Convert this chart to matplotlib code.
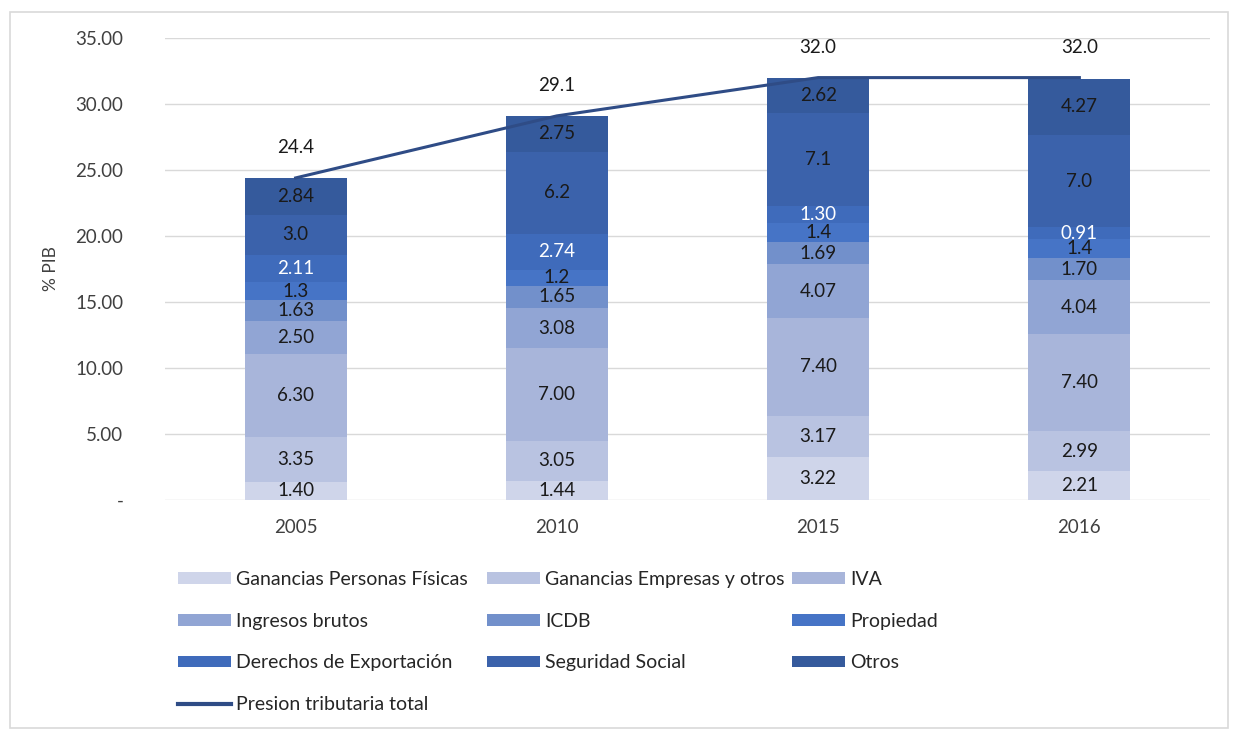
import numpy as np
import matplotlib
matplotlib.use("Agg")
from matplotlib import pyplot as plt
from matplotlib.patches import Rectangle, Patch
from matplotlib.lines import Line2D
from matplotlib.ticker import FuncFormatter

plt.rcParams['font.family'] = ['Lato', 'DejaVu Sans']

years = ['2005', '2010', '2015', '2016']
series = ['Ganancias Personas Físicas', 'Ganancias Empresas y otros', 'IVA',
          'Ingresos brutos', 'ICDB', 'Propiedad',
          'Derechos de Exportación', 'Seguridad Social', 'Otros']
gan_pf = [1.40, 1.44, 3.22, 2.21]
gan_emp = [3.35, 3.05, 3.17, 2.99]
iva = [6.30, 7.00, 7.40, 7.40]
ing_brutos = [2.50, 3.08, 4.07, 4.04]
icdb = [1.63, 1.65, 1.69, 1.70]
propiedad = [1.3, 1.2, 1.4, 1.4]
derechos = [2.11, 2.74, 1.30, 0.91]
seg_social = [3.0, 6.2, 7.1, 7.0]
otros = [2.84, 2.75, 2.62, 4.27]
total = [24.4, 29.1, 32.0, 32.0]

values = [gan_pf, gan_emp, iva, ing_brutos, icdb, propiedad, derechos, seg_social, otros]
decimals = [2, 2, 2, 2, 2, 1, 2, 1, 2]
colors = ['#CFD5EA', '#B9C3E1', '#A8B5DA', '#91A5D4', '#7290CB',
          '#4674C6', '#3F6BBB', '#3B62AB', '#355A9C']
txt_colors = ['#1a1a1a'] * 6 + ['white'] + ['#1a1a1a'] * 2
line_color = '#2F4C86'
fs = 13.5

fig = plt.figure(figsize=(12.36, 7.31), dpi=100)
ax = fig.add_axes([165 / 1236, 1 - 500 / 731, 1045 / 1236, 462 / 731])

x = np.arange(len(years))
bottom = np.zeros(len(years))
handles = []
for name, vals, dec, c, tc in zip(series, values, decimals, colors, txt_colors):
    vals = np.array(vals)
    ax.bar(x, vals, 0.39, bottom=bottom, color=c, zorder=2, label=name)
    for xi, b, v in zip(x, bottom, vals):
        ax.text(xi, b + v / 2, f"{v:.{dec}f}", ha='center', va='center',
                fontsize=fs, color=tc, zorder=4)
    handles.append(Patch(facecolor=c, label=name))
    bottom += vals

ax.plot(x, total, color=line_color, lw=2.2, zorder=3)
for xi, t in zip(x, total):
    ax.annotate(f"{t:.1f}", (xi, t), xytext=(0, 22), textcoords='offset points',
                ha='center', va='center', fontsize=fs, color='#1a1a1a')

ax.set_xlim(-0.5, 3.5)
ax.set_ylim(0, 35)
ax.set_yticks(np.arange(0, 36, 5))
ax.yaxis.set_major_formatter(FuncFormatter(lambda v, p: '-' if v == 0 else f"{v:.2f}"))
ax.set_xticks(x)
ax.set_xticklabels(years)
ax.tick_params(axis='both', length=0, labelsize=fs, labelcolor='#404040')
ax.tick_params(axis='y', pad=30)
ax.tick_params(axis='x', pad=14)
ax.grid(axis='y', color='#D9D9D9', lw=1, zorder=0)
for s in ax.spines.values():
    s.set_visible(False)
ax.set_ylabel('% PIB', fontsize=12.5, color='#404040')
ax.yaxis.set_label_coords(-0.101, 0.5)

# legend: one legend per column so the columns sit where the original has them
line_h = Line2D([0], [0], color=line_color, lw=3, label='Presion tributaria total')
allh = handles + [line_h]
columns = [([0, 3, 6, 9], 178), ([1, 4, 7], 487), ([2, 5, 8], 792)]
for idx, xpix in columns:
    hs = [allh[i] for i in idx]
    fig.legend(hs, [h.get_label() for h in hs],
               loc='upper left', bbox_to_anchor=(xpix / 1236, 1 - 571 / 731),
               frameon=False, fontsize=14, handlelength=2.7, handleheight=0.55,
               handletextpad=0.3, labelspacing=1.27, borderpad=0, borderaxespad=0,
               labelcolor='#262626')

fig.add_artist(Rectangle((10 / 1236, 3 / 731), 1218 / 1236, 716 / 731,
                         transform=fig.transFigure, fill=False,
                         edgecolor='#D9D9D9', lw=1.2))

fig.savefig('out.png', dpi=100)
